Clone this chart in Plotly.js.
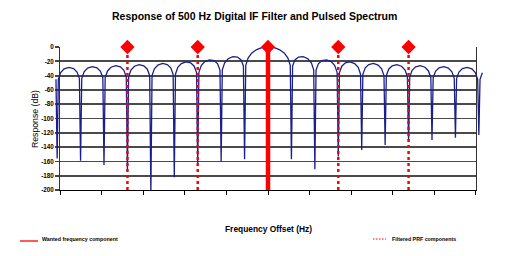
<!DOCTYPE html>
<html>
<head>
<meta charset="utf-8">
<script src="https://cdn.plot.ly/plotly-3.0.1.min.js"></script>
<style>html,body{margin:0;padding:0;background:#fff;}#chart{width:507px;height:256px;}</style>
</head>
<body>
<div id="chart"></div>
<script>
// Filter response (dB) sampled along frequency offset (Hz)
var freqHz = [
  -905, -900,
  -895, -885, -870, -850, -830, -815, -805, -800,
  -795, -785, -770, -750, -730, -715, -705, -700,
  -695, -685, -670, -650, -630, -615, -605, -600,
  -595, -585, -570, -550, -530, -515, -505, -500,
  -495, -485, -470, -450, -430, -415, -405, -400,
  -395, -385, -370, -350, -330, -315, -305, -300,
  -295, -285, -270, -250, -230, -215, -205, -200,
  -195, -185, -170, -150, -130, -115, -105, -100,
  -95, -85, -70, -50, -30, -15, 0, 15, 30, 50, 70, 85, 95,
  100, 105, 115, 130, 150, 170, 185, 195,
  200, 205, 215, 230, 250, 270, 285, 295,
  300, 305, 315, 330, 350, 370, 385, 395,
  400, 405, 415, 430, 450, 470, 485, 495,
  500, 505, 515, 530, 550, 570, 585, 595,
  600, 605, 615, 630, 650, 670, 685, 695,
  700, 705, 715, 730, 750, 770, 785, 795,
  800, 805, 815, 830, 850, 870, 885, 895,
  900, 905, 915
];
var responseDb = [
  -45.2, -156,
  -45.1, -35.7, -30.6, -28.5, -30.2, -35.0, -44.2, -159,
  -44.1, -34.7, -29.5, -27.4, -29.1, -33.9, -43.0, -165,
  -42.9, -33.5, -28.3, -26.2, -27.8, -32.6, -41.7, -174,
  -41.5, -32.2, -26.9, -24.8, -26.3, -31.0, -40.1, -205,
  -40.0, -30.5, -25.2, -23.0, -24.5, -29.2, -38.2, -182,
  -38.0, -28.5, -23.2, -20.8, -22.2, -26.8, -35.7, -165,
  -35.5, -25.9, -20.4, -17.9, -19.0, -23.5, -32.3, -160,
  -31.9, -22.2, -16.4, -13.5, -14.1, -18.0, -26.5, -157,
  -25.6, -15.4, -8.7, -3.9, -1.3, -0.3, 0, -0.3, -1.3, -3.9, -8.7, -15.4, -25.6,
  -157, -26.5, -18.0, -14.1, -13.5, -16.4, -22.2, -31.9,
  -171, -32.3, -23.5, -19.0, -17.9, -20.4, -25.9, -35.5,
  -153, -35.7, -26.8, -22.2, -20.8, -23.2, -28.5, -38.0,
  -144, -38.2, -29.2, -24.5, -23.0, -25.2, -30.5, -40.0,
  -137, -40.1, -31.0, -26.3, -24.8, -26.9, -32.2, -41.5,
  -132, -41.7, -32.6, -27.8, -26.2, -28.3, -33.5, -42.9,
  -130, -43.0, -33.9, -29.1, -27.4, -29.5, -34.7, -44.1,
  -127, -44.2, -35.0, -30.2, -28.5, -30.6, -35.7, -45.1,
  -123, -45.2, -36.0
];
// Spectral components
var wantedFreqHz = [0];
var prfFreqHz = [-600, -300, 300, 600];
var componentLevelDb = 0;
var floorDb = -200;
// Axis ticks
var yTickVals = [0, -20, -40, -60, -80, -100, -120, -140, -160, -180, -200];
var yTickLabels = ['0', '-20', '-40', '-60', '-80', '-100', '-120', '-140', '-160', '-180', '-200'];
var xTickVals = [-886.5, -709.2, -531.9, -354.6, -177.3, 0, 177.3, 354.6, 531.9, 709.2, 886.5];

var FONT = 'Liberation Sans, Arial, sans-serif';

// build component lines
var prfX = [], prfY = [];
prfFreqHz.forEach(function (f) { prfX.push(f, f, null); prfY.push(floorDb, componentLevelDb, null); });
var wantX = [], wantY = [];
wantedFreqHz.forEach(function (f) { wantX.push(f, f, null); wantY.push(floorDb, componentLevelDb, null); });
var markX = prfFreqHz.concat(wantedFreqHz);
var markY = markX.map(function () { return componentLevelDb; });

var traces = [
  // frame subplot (axes and grid only)
  { type: 'scatter', mode: 'lines', x: [], y: [], xaxis: 'x', yaxis: 'y', hoverinfo: 'skip', showlegend: false },
  { type: 'scatter', mode: 'lines', x: freqHz, y: responseDb, xaxis: 'x2', yaxis: 'y2',
    line: { color: '#1b1f8a', width: 1.3 }, hoverinfo: 'skip', showlegend: false },
  { type: 'scatter', mode: 'lines', x: prfX, y: prfY, xaxis: 'x2', yaxis: 'y2',
    line: { color: '#ff0000', width: 2.5, dash: '3px,3px' }, hoverinfo: 'skip', showlegend: false },
  { type: 'scatter', mode: 'lines', x: wantX, y: wantY, xaxis: 'x2', yaxis: 'y2',
    line: { color: '#ff0000', width: 4.5 }, hoverinfo: 'skip', showlegend: false },
  { type: 'scatter', mode: 'markers', x: markX, y: markY, xaxis: 'x2', yaxis: 'y2', cliponaxis: false,
    marker: { symbol: 'diamond', size: 11, color: '#ff0000', line: { width: 0 } }, hoverinfo: 'skip', showlegend: false }
];

var plotL = 50, plotR = 486, plotT = 47, plotB = 190;
var pw = plotR - plotL, ph = plotB - plotT;
function px(x) { return (x - plotL) / pw; }
function py(y) { return (plotB - y) / ph; }

var layout = {
  width: 507, height: 256,
  margin: { l: plotL, r: 507 - plotR, t: plotT, b: 256 - plotB, pad: 0 },
  paper_bgcolor: '#ffffff', plot_bgcolor: 'rgba(0,0,0,0)',
  showlegend: false,
  font: { family: FONT, color: '#000' },
  title: { text: 'Response of 500 Hz Digital IF Filter and Pulsed Spectrum',
    font: { family: FONT, size: 10.5, weight: 'bold', color: '#000' },
    xref: 'container', yref: 'container', x: 254.7 / 507, xanchor: 'center', y: 1 - 16 / 256, yanchor: 'middle' },
  xaxis: { domain: [px(60.3), px(475.7)], range: [-886.6, 886.6], anchor: 'y',
    tickmode: 'array', tickvals: xTickVals, showticklabels: false,
    ticks: 'outside', ticklen: 4, tickcolor: '#000', tickwidth: 1,
    showline: true, linecolor: '#000', linewidth: 1.3, showgrid: false, zeroline: false, fixedrange: true },
  yaxis: { domain: [0, 1], range: [-200, 0], anchor: 'x',
    tickmode: 'array', tickvals: yTickVals, ticktext: yTickLabels,
    tickfont: { family: FONT, size: 6.3, weight: 'bold', color: '#000' },
    ticks: 'outside', ticklen: 4, tickcolor: '#444', tickwidth: 1.8,
    showline: true, linecolor: '#333', linewidth: 1.3, mirror: true,
    showgrid: true, gridcolor: '#4a4a4a', gridwidth: 1.8, zeroline: false, fixedrange: true },
  xaxis2: { domain: [0, 1], range: [-930.5, 930.5], anchor: 'y2', visible: false, fixedrange: true },
  yaxis2: { domain: [0, 1], range: [-200, 0], anchor: 'x2', visible: false, fixedrange: true },
  shapes: [
    { type: 'line', xref: 'paper', yref: 'paper', x0: px(20), x1: px(38), y0: py(241), y1: py(241),
      line: { color: '#ff0000', width: 1.3 } },
    { type: 'line', xref: 'paper', yref: 'paper', x0: px(373), x1: px(386), y0: py(239), y1: py(239),
      line: { color: '#ff0000', width: 1.2, dash: '1.5px,1.5px' } }
  ],
  annotations: [
    { text: 'Frequency Offset (Hz)', xref: 'paper', yref: 'paper', x: px(268.5), y: py(229),
      xanchor: 'center', yanchor: 'middle', showarrow: false,
      font: { family: FONT, size: 8.4, weight: 'bold', color: '#000' } },
    { text: 'Response (dB)', xref: 'paper', yref: 'paper', x: px(35), y: py(119), textangle: -90,
      xanchor: 'center', yanchor: 'middle', showarrow: false,
      font: { family: FONT, size: 8.7, color: '#000' } },
    { text: 'Wanted frequency component', xref: 'paper', yref: 'paper', x: px(40), y: py(238.5),
      xanchor: 'left', yanchor: 'middle', showarrow: false,
      font: { family: FONT, size: 5.3, weight: 'bold', color: '#000' } },
    { text: 'Filtered PRF components', xref: 'paper', yref: 'paper', x: px(390), y: py(238.5),
      xanchor: 'left', yanchor: 'middle', showarrow: false,
      font: { family: FONT, size: 5.3, weight: 'bold', color: '#000' } }
  ]
};

Plotly.newPlot('chart', traces, layout, { staticPlot: true, displayModeBar: false });
</script>
</body>
</html>
